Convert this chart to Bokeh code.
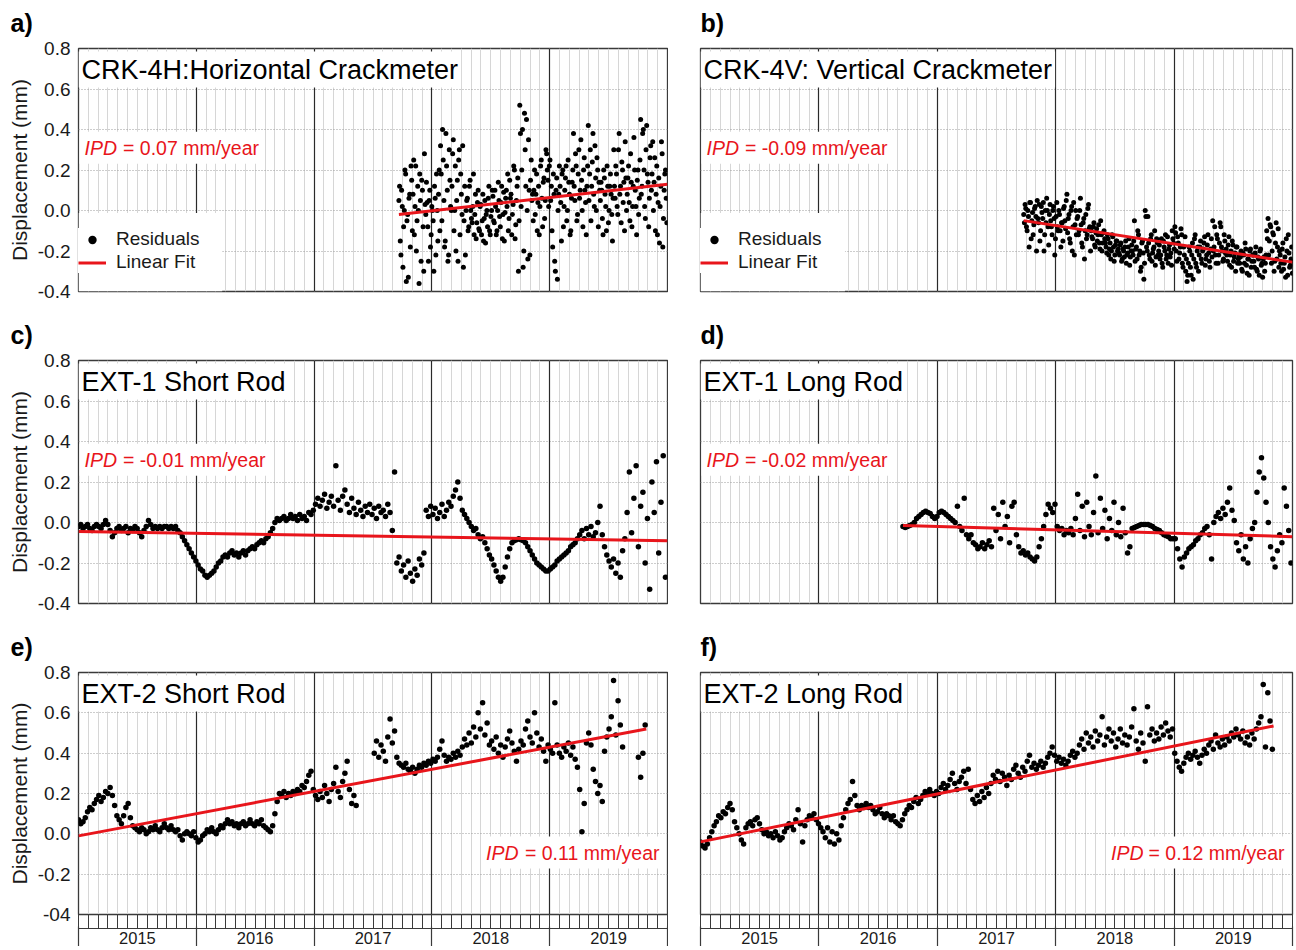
import numpy as np
from bokeh.plotting import figure
from bokeh.models import (Range1d, FixedTicker, LinearAxis, Grid, Label, Legend,
                          LegendItem, PrintfTickFormatter, Title, BoxAnnotation)
from bokeh.layouts import column, row
from bokeh.embed import file_html
from bokeh.resources import INLINE

nan = float("nan")

# ---------------- data ----------------
year_labels = ["2015", "2016", "2017", "2018", "2019"]
year_mid = [2015.5, 2016.5, 2017.5, 2018.5, 2019.5]
year_edges = [2015, 2016, 2017, 2018, 2019, 2020]
y_ticks = [-0.4, -0.2, 0.0, 0.2, 0.4, 0.6, 0.8]

titles = ["CRK-4H:Horizontal Crackmeter", "CRK-4V: Vertical Crackmeter",
          "EXT-1 Short Rod", "EXT-1 Long Rod", "EXT-2 Short Rod", "EXT-2 Long Rod"]
letters = ["a)", "b)", "c)", "d)", "e)", "f)"]
ipd_values = ["0.07", "-0.09", "-0.01", "-0.02", "0.11", "0.12"]

# sampling: start (decimal year) and step (years)
a_t0, a_dt = 2017.72, 0.0114
b_t0, b_dt = 2017.73, 0.0114
c_t0, c_dt = 2015.0, 7 / 365.25
d_t0, d_dt = 2016.71, 7 / 365.25
e_t0, e_dt = 2015.0, 7 / 365.25
f_t0, f_dt = 2015.0, 7 / 365.25

a_vals = [
    0.05, -0.15, 0.10, -0.28, 0.00, 0.18, -0.05, -0.33, 0.08, 0.22,
    -0.10, 0.25, 0.02, -0.20, 0.12, -0.36, 0.05, 0.15, -0.08, 0.28,
    -0.02, 0.04, -0.25, 0.10, -0.12, 0.00, -0.30, 0.06, 0.18, -0.15,
    0.20, 0.32, -0.05, 0.25, -0.18, 0.38, 0.10, -0.22, 0.15, 0.00,
    0.28, -0.10, 0.22, 0.05, -0.25, 0.30, 0.18, -0.02, -0.28, 0.12,
    0.00, 0.06, -0.08, 0.15, -0.04, 0.02, -0.12, 0.08, -0.06, 0.10,
    -0.10, 0.03, -0.05, -0.15, 0.05, -0.02, -0.08, 0.12, -0.12, 0.00,
    0.07, -0.06, 0.02, -0.10, 0.14, -0.03, 0.04, -0.14, 0.09, -0.01,
    0.10, 0.18, -0.04, 0.06, -0.12, 0.03, 0.20, -0.07, 0.12, -0.30,
    0.52, 0.02, 0.40, -0.20, 0.30, 0.45, -0.24, 0.10, 0.15, 0.05,
    -0.05, 0.20, 0.08, -0.10, 0.12, 0.02, 0.25, -0.08, 0.16, 0.05,
    0.28, 0.15, 0.22, 0.05, -0.10, 0.18, -0.25, 0.10, -0.34, 0.08,
    0.12, -0.15, 0.20, 0.02, 0.16, -0.05, 0.25, 0.08, -0.10, 0.14,
    0.38, 0.05, 0.22, -0.02, 0.30, 0.10, 0.15, -0.08, 0.26, 0.04,
    0.12, 0.42, 0.18, -0.05, 0.24, 0.08, 0.32, 0.00, 0.20, 0.14,
    0.05, 0.10, -0.12, 0.16, 0.02, 0.22, -0.06, 0.12, 0.08, -0.15,
    0.30, 0.06, 0.18, -0.02, 0.38, 0.12, 0.24, 0.04, -0.10, 0.16,
    0.08, 0.22, -0.05, 0.14, 0.02, 0.36, 0.10, -0.12, 0.20, 0.06,
    0.45, 0.12, 0.40, 0.02, 0.30, 0.18, -0.08, 0.26, 0.10, 0.34,
    0.14, -0.10, 0.22, 0.04, -0.16, 0.12, 0.28, -0.04, 0.18, 0.06,
]
# second half of the a) readings (between the ones above)
a2_vals = [
    0.12, -0.22, 0.02, -0.08, 0.20, -0.35, -0.02, 0.06, -0.18, 0.15,
    0.08, -0.12, 0.22, -0.05, 0.00, 0.18, -0.25, 0.10, -0.30, 0.03,
    0.14, -0.08, 0.05, -0.18, 0.02, -0.05, 0.12, -0.22, 0.00, 0.08,
    -0.10, 0.18, 0.40, 0.05, -0.15, 0.22, -0.25, 0.30, 0.02, 0.12,
    0.35, 0.00, -0.20, 0.15, 0.25, -0.12, 0.08, 0.32, -0.05, -0.22,
    0.05, -0.10, 0.12, 0.00, -0.06, 0.18, -0.02, -0.14, 0.04, -0.09,
    0.02, -0.12, 0.08, -0.04, -0.16, 0.00, 0.06, -0.10, -0.03, 0.10,
    -0.05, 0.10, -0.12, 0.00, 0.05, -0.08, 0.12, -0.02, -0.15, 0.06,
    0.02, -0.10, 0.15, 0.08, -0.02, 0.22, -0.14, 0.05, 0.16, -0.05,
    0.38, 0.20, -0.28, 0.48, 0.12, 0.00, 0.35, -0.22, 0.25, 0.08,
    0.10, -0.02, 0.18, 0.04, -0.12, 0.22, 0.06, 0.14, -0.04, 0.30,
    0.20, 0.02, 0.25, 0.12, -0.18, 0.08, -0.30, 0.16, 0.00, 0.22,
    0.04, 0.18, -0.08, 0.10, 0.22, 0.00, 0.14, -0.12, 0.06, 0.20,
    0.12, 0.28, -0.05, 0.18, 0.06, 0.35, 0.00, 0.20, 0.10, -0.12,
    0.22, 0.05, 0.30, 0.12, 0.38, 0.02, 0.16, 0.26, -0.08, 0.10,
    0.14, -0.04, 0.20, 0.08, -0.10, 0.12, 0.00, 0.18, -0.02, 0.06,
    0.12, 0.22, 0.02, 0.30, 0.08, -0.06, 0.20, 0.14, 0.34, 0.00,
    0.16, 0.04, 0.28, -0.08, 0.12, 0.20, 0.02, 0.15, -0.02, 0.25,
    0.08, 0.38, 0.20, -0.04, 0.42, 0.14, 0.06, 0.32, 0.18, 0.00,
    0.26, 0.08, -0.12, 0.16, 0.02, 0.34, -0.18, 0.10, 0.20, -0.06,
]

b_vals = [
    -0.02, 0.03, -0.08, 0.00, -0.18, 0.04, -0.05, -0.12, 0.01, -0.03,
    0.05, -0.06, -0.15, 0.02, -0.04, -0.20, 0.00, 0.06, -0.08, -0.02,
    -0.05, -0.12, 0.02, -0.22, -0.03, -0.08, 0.00, -0.10, -0.06, -0.15,
    0.02, -0.09, 0.08, -0.04, -0.14, 0.00, -0.20, 0.04, -0.07, -0.12,
    -0.03, -0.10, 0.06, -0.16, -0.06, -0.24, -0.02, -0.12, 0.03, -0.08,
    -0.10, -0.14, -0.06, -0.18, -0.09, -0.12, -0.16, -0.05, -0.20, -0.11,
    -0.14, -0.18, -0.12, -0.22, -0.16, -0.20, -0.13, -0.25, -0.17, -0.15,
    -0.19, -0.22, -0.16, -0.24, -0.20, -0.18, -0.26, -0.21, -0.14, -0.23,
    -0.17, -0.22, -0.05, -0.19, -0.24, -0.12, -0.20, -0.28, -0.15, -0.34,
    0.00, -0.18, -0.03, -0.22, -0.14, -0.25, -0.19, -0.10, -0.23, -0.16,
    -0.20, -0.24, -0.14, -0.28, -0.18, -0.12, -0.22, -0.26, -0.17, -0.21,
    -0.10, -0.16, -0.08, -0.20, -0.13, -0.24, -0.18, -0.12, -0.28, -0.22,
    -0.30, -0.35, -0.26, -0.20, -0.32, -0.16, -0.24, -0.12, -0.28, -0.18,
    -0.22, -0.15, -0.26, -0.19, -0.13, -0.24, -0.17, -0.21, -0.28, -0.14,
    -0.05, -0.18, -0.22, -0.12, -0.26, -0.16, -0.08, -0.20, -0.24, -0.15,
    -0.19, -0.25, -0.13, -0.22, -0.28, -0.17, -0.23, -0.30, -0.18, -0.24,
    -0.26, -0.20, -0.30, -0.22, -0.16, -0.27, -0.24, -0.32, -0.19, -0.25,
    -0.22, -0.28, -0.18, -0.30, -0.24, -0.20, -0.27, -0.33, -0.23, -0.26,
    -0.10, -0.04, -0.15, -0.08, -0.20, -0.12, -0.25, -0.06, -0.18, -0.28,
    -0.22, -0.30, -0.16, -0.26, -0.33, -0.20, -0.12, -0.28, -0.24, -0.31,
]
b2_vals = [
    -0.06, 0.01, -0.10, -0.03, 0.04, -0.14, -0.01, -0.07, 0.02, -0.20,
    -0.04, 0.03, -0.10, -0.01, 0.04, -0.12, -0.06, 0.00, -0.17, 0.03,
    -0.08, 0.00, -0.04, -0.14, 0.04, -0.10, -0.02, -0.18, -0.06, 0.01,
    -0.05, 0.05, -0.11, -0.02, -0.16, 0.02, -0.08, -0.22, 0.00, -0.04,
    -0.12, 0.00, -0.07, -0.18, -0.04, -0.10, -0.14, 0.01, -0.09, -0.20,
    -0.13, -0.08, -0.17, -0.11, -0.15, -0.07, -0.19, -0.12, -0.16, -0.10,
    -0.16, -0.21, -0.14, -0.19, -0.24, -0.12, -0.18, -0.22, -0.15, -0.20,
    -0.21, -0.17, -0.25, -0.19, -0.23, -0.15, -0.22, -0.18, -0.27, -0.20,
    -0.20, -0.15, -0.25, -0.18, -0.10, -0.22, -0.30, -0.16, -0.21, -0.26,
    -0.03, -0.20, -0.16, -0.24, -0.12, -0.21, -0.18, -0.27, -0.14, -0.22,
    -0.17, -0.22, -0.26, -0.15, -0.20, -0.24, -0.13, -0.19, -0.23, -0.27,
    -0.14, -0.19, -0.11, -0.25, -0.16, -0.21, -0.09, -0.26, -0.18, -0.13,
    -0.24, -0.32, -0.18, -0.28, -0.22, -0.34, -0.14, -0.26, -0.20, -0.30,
    -0.18, -0.24, -0.20, -0.16, -0.27, -0.22, -0.12, -0.25, -0.19, -0.23,
    -0.20, -0.08, -0.26, -0.14, -0.22, -0.06, -0.18, -0.25, -0.12, -0.21,
    -0.22, -0.17, -0.27, -0.20, -0.15, -0.25, -0.21, -0.18, -0.26, -0.22,
    -0.23, -0.29, -0.21, -0.26, -0.19, -0.31, -0.24, -0.20, -0.28, -0.22,
    -0.25, -0.21, -0.29, -0.23, -0.32, -0.19, -0.26, -0.24, -0.30, -0.22,
    -0.14, -0.22, -0.07, -0.26, -0.11, -0.30, -0.16, -0.24, -0.09, -0.20,
    -0.26, -0.19, -0.29, -0.23, -0.14, -0.32, -0.21, -0.27, -0.18, -0.25,
]

c_vals = [
    -0.02, -0.01, -0.03, -0.02, -0.01, -0.03, -0.04, -0.02, -0.01, -0.02, -0.03, -0.01, 0.01,
    -0.01, -0.04, -0.07, -0.05, -0.03, -0.02, -0.04, -0.03, -0.02, -0.05, -0.03, -0.04, -0.02,
    -0.03, -0.05, -0.07, -0.04, -0.02, 0.01, -0.01, -0.03, -0.02, -0.03, -0.02, -0.03, -0.02,
    -0.02, -0.03, -0.02, -0.03, -0.02, -0.04, -0.05, -0.07, -0.09, -0.11, -0.13, -0.15, -0.17,
    -0.19, -0.21, -0.23, -0.24, -0.26, -0.27, -0.26, -0.25, -0.24, -0.22,
    -0.20, -0.19, -0.17, -0.16, -0.17, -0.15, -0.14, -0.16, -0.15, -0.17,
    -0.15, -0.14, -0.16, -0.14, -0.13, -0.12, -0.13, -0.11, -0.10, -0.09,
    -0.10, -0.08, -0.07, -0.05, -0.03, 0.00, 0.02, 0.01, 0.02, 0.03,
    0.01, 0.02, 0.04, 0.02, 0.03, 0.01, 0.04, 0.02, 0.03, 0.01,
    0.05, 0.04,
    0.06, 0.09, 0.12, 0.08, 0.11, 0.14, 0.07, 0.10, 0.13, 0.08,
    0.28, 0.11, 0.06, 0.13, 0.16, 0.09, 0.05, 0.12, 0.07, 0.04,
    0.10, 0.06, 0.03, 0.08, 0.05, 0.09, 0.04, 0.07, 0.02, 0.08,
    0.05, 0.06, 0.03, 0.09, 0.05, -0.04, 0.25, -0.20, -0.17, -0.24,
    -0.21, -0.27, -0.19, -0.25, -0.29, -0.23, -0.26, -0.18, -0.21, -0.15,
    0.06, 0.03, 0.08,
    0.04, 0.07, 0.02, 0.05, 0.09, 0.03, 0.06, 0.10, 0.08, 0.13,
    0.16, 0.20, 0.12, 0.06, 0.04, 0.02, 0.00, -0.02, -0.04, -0.03,
    -0.06, -0.08, -0.07, -0.10, -0.13, -0.16,
    -0.18, -0.21, -0.24, -0.27, -0.29, -0.27, -0.22, -0.17, -0.13, -0.10,
    -0.09, -0.085, -0.08, -0.085, -0.09, -0.10, -0.12, -0.14, -0.16, -0.18,
    -0.20, -0.21, -0.22, -0.23, -0.24, -0.24,
    -0.23, -0.22, -0.21, -0.19, -0.18, -0.17, -0.16, -0.15, -0.14, -0.12,
    -0.11, -0.10, -0.08, -0.06, -0.04, -0.08, -0.03, -0.06, -0.02, -0.07,
    -0.05, 0.00, 0.08, -0.06, -0.12, -0.16, -0.19, -0.22, -0.18, -0.25,
    -0.20, -0.27, -0.14, -0.08, 0.05, 0.25, -0.05, 0.12, 0.28, -0.12,
    0.08, 0.15, -0.20, 0.02, -0.33, 0.20, 0.05, 0.30, -0.15, 0.10,
    0.33, -0.27,
]

d_vals = [
    -0.02, -0.025, -0.02, -0.015, -0.01, 0.00, 0.02, 0.03, 0.04, 0.05,
    0.055, 0.05, 0.045, 0.03, 0.02, 0.03, 0.05, 0.055, 0.05, 0.04,
    0.03, 0.02, 0.01, 0.00, 0.08, -0.02, -0.04, 0.12, -0.06, -0.08,
    -0.06, -0.10, -0.11, -0.13, -0.12, -0.10, -0.13, -0.11, -0.09, -0.12,
    0.07, -0.04, 0.04, -0.08, 0.10, -0.02, 0.03, -0.10, 0.08, 0.10,
    -0.06, -0.12, -0.15, -0.14, -0.16, -0.15, -0.17, -0.18, -0.19, -0.17,
    -0.12, -0.08, -0.02, 0.04, 0.09, 0.07, 0.05, 0.09, -0.02, -0.04,
    -0.03, -0.06, -0.04, -0.05, -0.03, -0.06, 0.02, 0.14, -0.04, 0.08,
    -0.07, 0.10, -0.02, -0.06, 0.05, 0.23, -0.05, 0.12, -0.03, 0.06,
    -0.08, 0.02, -0.04, 0.10, -0.06, 0.00, -0.07, 0.07, -0.05, -0.15,
    -0.12, -0.03, -0.025, -0.02, -0.015, -0.01, -0.01, -0.01, -0.01, -0.015,
    -0.02, -0.03, -0.035, -0.04, -0.05, -0.06, -0.065, -0.07, -0.08, -0.08,
    -0.08, -0.13, -0.18, -0.22, -0.17, -0.15, -0.13, -0.12, -0.11, -0.09,
    -0.08, -0.06, -0.05, -0.03, -0.02, -0.06, -0.18, 0.00, 0.03, 0.05,
    0.02, 0.07, 0.04, 0.10, 0.17, 0.06, 0.01, -0.10, -0.14, -0.06,
    -0.18, -0.12, -0.20, -0.08, -0.03, 0.00, 0.15, 0.25, 0.32, 0.22,
    0.10, 0.00, -0.12, -0.18, -0.22, -0.14, -0.06, -0.10, 0.17, 0.08,
    -0.04, -0.20,
]

e_vals = [
    0.07, 0.05, 0.06, 0.08, 0.11, 0.13, 0.12, 0.15, 0.17, 0.19,
    0.16, 0.18, 0.21, 0.20, 0.23, 0.19, 0.14, 0.09, 0.07, 0.05,
    0.09, 0.13, 0.15, 0.08, 0.04, 0.03, 0.02, 0.01, 0.03, 0.02,
    0.00, 0.01, 0.03, 0.02, 0.04, 0.02, 0.01, 0.03, 0.05, 0.03,
    0.02, 0.04, 0.02, 0.01, 0.02, -0.01, -0.03, 0.00, 0.01, 0.00, -0.01, 0.01,
    -0.02, -0.04, -0.03, -0.01, 0.00, 0.02, 0.01, 0.03, 0.01, 0.00,
    0.02, 0.04, 0.03, 0.05, 0.07, 0.05, 0.06, 0.04, 0.05, 0.03,
    0.05, 0.06, 0.04, 0.05, 0.07, 0.05, 0.04, 0.06, 0.05, 0.07,
    0.04, 0.03, 0.02, 0.01, 0.04, 0.10, 0.16, 0.20, 0.19, 0.21,
    0.18, 0.20, 0.19, 0.21, 0.20, 0.22, 0.21, 0.24, 0.23, 0.26, 0.29, 0.31,
    0.22, 0.19, 0.17, 0.21, 0.18, 0.24, 0.20, 0.16, 0.22, 0.25,
    0.33, 0.21, 0.18, 0.26, 0.30, 0.36, 0.22, 0.15, 0.19, 0.14,
    nan, nan, nan, nan, nan, nan, nan,
    0.40, 0.46, 0.38, 0.44, 0.41, 0.36, 0.48, 0.57, 0.45, 0.51,
    0.38, 0.35, 0.34, 0.33, 0.35, 0.32, 0.31, 0.33, 0.30, 0.32,
    0.34, 0.33, 0.35, 0.34, 0.36, 0.35,
    0.37, 0.36, 0.38, 0.42, 0.46, 0.39, 0.36, 0.38, 0.37, 0.40,
    0.38, 0.41, 0.39, 0.43, 0.47, 0.44, 0.50, 0.45, 0.53, 0.48,
    0.60, 0.52, 0.65, 0.49, 0.55, 0.44, 0.46, 0.42, 0.48, 0.40,
    0.44, 0.38, 0.43, 0.47, 0.51, 0.45, 0.41, 0.36, 0.42, 0.46,
    0.44, 0.52, 0.56, 0.48, 0.45, 0.60, 0.50, 0.43, 0.47, 0.41, 0.36, 0.44,
    0.42, 0.40, 0.65, 0.44, 0.40, 0.38, 0.43, 0.41, 0.45, 0.39,
    0.43, 0.37, 0.33, 0.22, 0.01, 0.15, 0.45, 0.50, 0.44, 0.32,
    0.26, 0.20, 0.24, 0.16, 0.41, 0.48, 0.52, 0.58, 0.76, 0.49,
    0.66, 0.54, 0.43, nan, nan, nan, nan, nan, nan,
    0.38, 0.28, 0.40, 0.54,
]

f_vals = [
    -0.04, -0.06, -0.07, -0.05, -0.02, 0.01, 0.04, 0.06, 0.09, 0.08,
    0.11, 0.10, 0.13, 0.15, 0.12, 0.06, 0.03, 0.00, -0.03, -0.05,
    0.03, 0.05, 0.06, 0.04, 0.07, 0.08, 0.05, 0.02, 0.00, 0.01,
    -0.01, 0.00, -0.02, 0.01, -0.01, -0.03, -0.02, 0.01, 0.03, 0.05,
    0.04, 0.02, 0.07, 0.12, 0.05, -0.04, 0.04, 0.07, 0.09, 0.08, 0.10, 0.07,
    0.05, 0.03, 0.01, -0.02, 0.03, -0.04, 0.01, -0.05, 0.00, -0.03,
    0.04, 0.08, 0.12, 0.15, 0.17, 0.26, 0.19, 0.14, 0.12, 0.14,
    0.13, 0.15, 0.13, 0.14, 0.12, 0.10, 0.11, 0.13, 0.10, 0.08,
    0.10, 0.09, 0.07, 0.09, 0.06, 0.05, 0.04, 0.07, 0.10, 0.12,
    0.14, 0.13, 0.16, 0.18, 0.15, 0.17, 0.19, 0.21, 0.20, 0.22, 0.20, 0.19,
    0.21, 0.20, 0.23, 0.25, 0.22, 0.24, 0.27, 0.30, 0.25, 0.22,
    0.26, 0.28, 0.31, 0.25, 0.32, 0.22, 0.17, 0.15, 0.19, 0.16,
    0.21, 0.18, 0.23, 0.20, 0.25, 0.29, 0.27, 0.31, 0.26, 0.30,
    0.28, 0.24, 0.29, 0.27, 0.32, 0.34, 0.30, 0.28, 0.33, 0.31,
    0.36, 0.39, 0.33, 0.35, 0.32, 0.34, 0.36, 0.33, 0.35, 0.38, 0.40, 0.43, 0.39,
    0.36, 0.38, 0.35, 0.37, 0.34, 0.36, 0.39, 0.41, 0.38, 0.40,
    0.44, 0.47, 0.42, 0.50, 0.45, 0.48, 0.43, 0.51, 0.46, 0.49,
    0.58, 0.44, 0.48, 0.52, 0.46, 0.50, 0.43, 0.47, 0.52, 0.45,
    0.49, 0.44, 0.48, 0.53, 0.62, 0.46, 0.42, 0.50, 0.45, 0.36,
    0.63, 0.49, 0.52, 0.46, 0.50, 0.47, 0.53, 0.49, 0.55, 0.51, 0.48, 0.52,
    0.40, 0.36, 0.33, 0.31, 0.35, 0.38, 0.40, 0.37, 0.39, 0.41,
    0.38, 0.35, 0.39, 0.42, 0.40, 0.44, 0.46, 0.42, 0.49, 0.45,
    0.43, 0.47, 0.44, 0.48, 0.46, 0.50, 0.48, 0.52, 0.49, 0.47,
    0.51, 0.45, 0.48, 0.44, 0.50, 0.47, 0.52, 0.55, 0.58, 0.74,
    0.43, 0.70, 0.56, 0.42,
]

# linear fits: end points (year, mm)
a_fit_x, a_fit_y = [2017.72, 2020.0], [-0.02, 0.13]
b_fit_x, b_fit_y = [2017.73, 2020.0], [-0.05, -0.255]
c_fit_x, c_fit_y = [2015.0, 2020.0], [-0.045, -0.09]
d_fit_x, d_fit_y = [2016.71, 2020.0], [-0.015, -0.07]
e_fit_x, e_fit_y = [2015.0, 2019.82], [-0.01, 0.52]
f_fit_x, f_fit_y = [2015.0, 2019.84], [-0.04, 0.535]

# ---------------- style ----------------
FONT = "Liberation Sans"
RED = "#e8151b"
INK = "#1a1a1a"
FRAME = "#3a3a3a"
month_ticks = [2015 + m / 12 for m in range(61)]
year_lines = [2016, 2017, 2018, 2019]


def spacer_axis(px):
    # an axis with one invisible minor tick: it only reserves px pixels of room
    return LinearAxis(ticker=FixedTicker(ticks=[], minor_ticks=[2017.5]),
                      major_tick_out=px, major_tick_in=0,
                      minor_tick_out=px, minor_tick_in=0,
                      minor_tick_line_color=None, major_tick_line_color=None,
                      axis_line_color=None, major_label_standoff=0)


def build(i, series, fit_x, fit_y, left, bottom, legend, ipd_right, msize):
    fh = 242 if bottom else 243
    p = figure(title=None, x_range=Range1d(2015, 2020), y_range=Range1d(-0.4, 0.8),
               frame_width=589 if left else 592, frame_height=fh,
               min_border_left=78 if left else 32, min_border_right=1 if left else 4,
               min_border_top=48, min_border_bottom=0 if bottom else 21,
               output_backend="svg", toolbar_location=None,
               background_fill_color="white", border_fill_color="white")
    p.outline_line_color = FRAME
    p.outline_line_width = 1.3
    xa = p.below[0]   # the default x axis
    ya = p.left[0]    # the default y axis

    # empty spacer above the frame, then the panel letter stacked above it
    p.add_layout(spacer_axis(8), "above")
    p.add_layout(Title(text=letters[i], align="left", offset=-68 if left else 0,
                       text_font=FONT, text_font_size="25px", text_font_style="bold",
                       text_color="black", standoff=8, vertical_align="bottom"), "above")

    # y axis
    if left:
        ya.ticker = FixedTicker(ticks=y_ticks)
        ya.formatter = PrintfTickFormatter(format="%.1f")
        if bottom:
            ya.major_label_overrides = {-0.4: "-04"}
        ya.major_tick_out = 0
        ya.major_tick_in = 0
        ya.minor_tick_out = 0
        ya.minor_tick_in = 0
        ya.axis_line_color = None
        ya.major_label_standoff = 8
        ya.major_label_text_font = FONT
        ya.major_label_text_font_size = "19px"
        ya.major_label_text_color = INK
        ya.axis_label = "Displacement (mm)"
        ya.axis_label_text_font = FONT
        ya.axis_label_text_font_size = "21px"
        ya.axis_label_text_font_style = "normal"
        ya.axis_label_text_color = INK
        ya.axis_label_standoff = 4
    else:
        ya.visible = False

    # grids
    p.ygrid.ticker = FixedTicker(ticks=[-0.2, 0.0, 0.2, 0.4, 0.6])
    p.ygrid.grid_line_color = "#9a9a9a"
    p.ygrid.grid_line_dash = "1 2"
    p.ygrid.grid_line_width = 1
    p.xgrid.ticker = FixedTicker(ticks=month_ticks)
    p.xgrid.grid_line_color = "#d6d6d6"
    p.xgrid.grid_line_width = 1
    p.add_layout(Grid(dimension=0, ticker=FixedTicker(ticks=year_lines),
                      grid_line_color="#2a2a2a", grid_line_width=1.2))

    # x axes: month band, year band (labels), bottom line with year separators
    if bottom:
        xa.ticker = FixedTicker(ticks=[], minor_ticks=month_ticks)
        xa.major_tick_out = 14
        xa.major_tick_in = 0
        xa.minor_tick_out = 14
        xa.minor_tick_in = 0
        xa.minor_tick_line_color = FRAME
        xa.axis_line_color = FRAME
        xa.major_label_standoff = 0
        yax = LinearAxis(ticker=FixedTicker(ticks=year_mid),
                         major_label_overrides=dict(zip(year_mid, year_labels)),
                         major_tick_out=3, major_tick_in=0, major_tick_line_color=None,
                         minor_tick_out=0, minor_tick_in=0,
                         axis_line_color=FRAME, axis_line_width=1.2,
                         major_label_standoff=0,
                         major_label_text_font=FONT, major_label_text_font_size="16.5px",
                         major_label_text_color=INK)
        p.add_layout(yax, "below")
        bax = LinearAxis(ticker=FixedTicker(ticks=[], minor_ticks=year_edges),
                         major_tick_out=0, major_tick_in=0,
                         minor_tick_out=0, minor_tick_in=20,
                         minor_tick_line_color=FRAME, minor_tick_line_width=1.2,
                         axis_line_color=FRAME, axis_line_width=1.2,
                         major_label_standoff=0)
        p.add_layout(bax, "below")
    else:
        xa.visible = False

    sc = None
    for vals, t0, dt in series:
        xs = t0 + dt * np.arange(len(vals))
        r = p.scatter(xs, vals, size=msize, marker="circle", fill_color="black", line_color=None)
        sc = sc or r
    ln = p.line(fit_x, fit_y, line_color=RED, line_width=3)

    # title inside panel
    p.add_layout(Label(x=2015, y=0.8, x_offset=0, y_offset=-3, text=titles[i],
                       text_baseline="top", text_align="left", text_font=FONT,
                       text_font_size="27px", text_color="black",
                       background_fill_color="white", padding=3))
    # IPD annotation
    rest = "= " + ipd_values[i] + " mm/year"
    common = dict(text_font=FONT, text_font_size="19.5px", text_color=RED,
                  text_baseline="middle", background_fill_color="white", padding=5)
    if ipd_right:
        p.add_layout(Label(x=2020, y=-0.093, x_offset=-144, text="IPD", text_align="right",
                           text_font_style="italic", **common))
        p.add_layout(Label(x=2020, y=-0.093, x_offset=-3, text=rest, text_align="right", **common))
    else:
        p.add_layout(Label(x=2015, y=0.31, x_offset=1, text="IPD", text_align="left",
                           text_font_style="italic", **common))
        p.add_layout(Label(x=2015, y=0.31, x_offset=39.5, text=rest, text_align="left", **common))

    if legend:
        # white patch behind the legend (covers grid lines down to the frame)
        p.add_layout(BoxAnnotation(left=2015, right=2016.22, bottom=-0.4, top=-0.012,
                                   fill_color="white", fill_alpha=1.0, line_color=None))
        leg = Legend(items=[LegendItem(label="Residuals", renderers=[sc]),
                            LegendItem(label="Linear Fit", renderers=[ln])],
                     location=(0, 18), margin=0, padding=14, spacing=1,
                     glyph_width=28, glyph_height=21, label_height=21, label_standoff=10,
                     label_text_font=FONT, label_text_font_size="19px", label_text_color=INK,
                     background_fill_color="white", background_fill_alpha=1.0,
                     border_line_color=None)
        p.add_layout(leg)
    return p


pa = build(0, [(a_vals, a_t0, a_dt), (a2_vals, a_t0 + a_dt / 2, a_dt)], a_fit_x, a_fit_y,
           True, False, True, False, 5)
pb = build(1, [(b_vals, b_t0, b_dt), (b2_vals, b_t0 + b_dt / 2, b_dt)], b_fit_x, b_fit_y,
           False, False, True, False, 5)
pc = build(2, [(c_vals, c_t0, c_dt)], c_fit_x, c_fit_y, True, False, False, False, 5.5)
pd = build(3, [(d_vals, d_t0, d_dt)], d_fit_x, d_fit_y, False, False, False, False, 5.5)
pe = build(4, [(e_vals, e_t0, e_dt)], e_fit_x, e_fit_y, True, True, False, True, 5.5)
pf = build(5, [(f_vals, f_t0, f_dt)], f_fit_x, f_fit_y, False, True, False, True, 5.5)

layout = column(row(pa, pb), row(pc, pd), row(pe, pf))
open("out.html", "w").write(file_html(layout, INLINE))
